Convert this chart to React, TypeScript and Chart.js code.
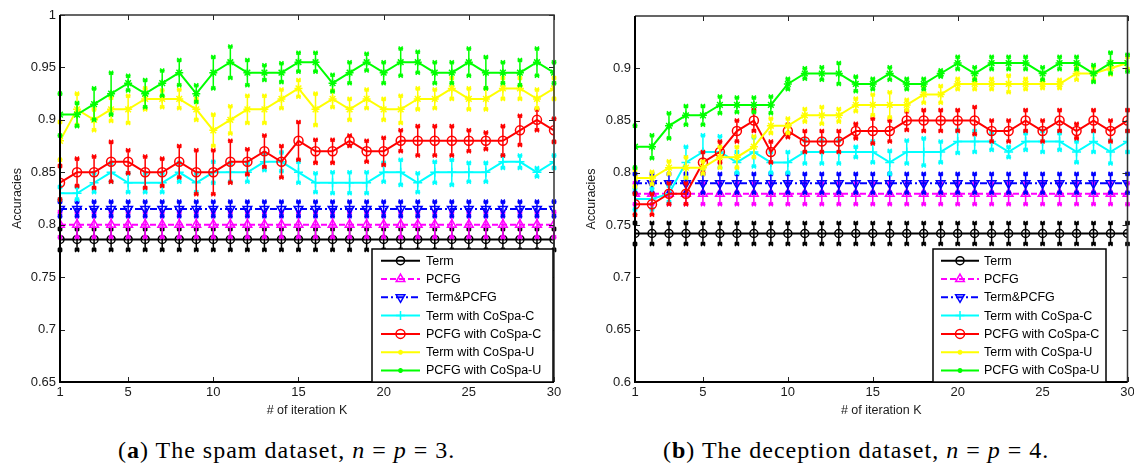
import React, { useEffect, useRef } from 'react';
import { Chart, registerables } from 'chart.js';

Chart.register(...registerables);

// ---------------- data ----------------
const iterations = [1, 2, 3, 4, 5, 6, 7, 8, 9, 10, 11, 12, 13, 14, 15, 16, 17, 18, 19, 20, 21, 22, 23, 24, 25, 26, 27, 28, 29, 30];
const xTickValues = [1, 5, 10, 15, 20, 25, 30];
const yTickValuesA = [0.65, 0.7, 0.75, 0.8, 0.85, 0.9, 0.95, 1];
const yTickValuesB = [0.6, 0.65, 0.7, 0.75, 0.8, 0.85, 0.9];

const seriesLabels = ['Term', 'PCFG', 'Term&PCFG', 'Term with CoSpa-C', 'PCFG with CoSpa-C', 'Term with CoSpa-U', 'PCFG with CoSpa-U'];

// (a) spam dataset
const termA = [0.786, 0.786, 0.786, 0.786, 0.786, 0.786, 0.786, 0.786, 0.786, 0.786, 0.786, 0.786, 0.786, 0.786, 0.786, 0.786, 0.786, 0.786, 0.786, 0.786, 0.786, 0.786, 0.786, 0.786, 0.786, 0.786, 0.786, 0.786, 0.786, 0.786];
const pcfgA = [0.8, 0.8, 0.8, 0.8, 0.8, 0.8, 0.8, 0.8, 0.8, 0.8, 0.8, 0.8, 0.8, 0.8, 0.8, 0.8, 0.8, 0.8, 0.8, 0.8, 0.8, 0.8, 0.8, 0.8, 0.8, 0.8, 0.8, 0.8, 0.8, 0.8];
const termPcfgA = [0.815, 0.815, 0.815, 0.815, 0.815, 0.815, 0.815, 0.815, 0.815, 0.815, 0.815, 0.815, 0.815, 0.815, 0.815, 0.815, 0.815, 0.815, 0.815, 0.815, 0.815, 0.815, 0.815, 0.815, 0.815, 0.815, 0.815, 0.815, 0.815, 0.815];
const termCoSpaCA = [0.83, 0.83, 0.84, 0.85, 0.84, 0.84, 0.84, 0.85, 0.84, 0.85, 0.85, 0.85, 0.86, 0.86, 0.85, 0.84, 0.84, 0.84, 0.84, 0.85, 0.85, 0.84, 0.85, 0.85, 0.85, 0.85, 0.86, 0.86, 0.85, 0.86];
const pcfgCoSpaCA = [0.84, 0.85, 0.85, 0.86, 0.86, 0.85, 0.85, 0.86, 0.85, 0.85, 0.86, 0.86, 0.87, 0.86, 0.88, 0.87, 0.87, 0.88, 0.87, 0.87, 0.88, 0.88, 0.88, 0.88, 0.88, 0.88, 0.88, 0.89, 0.9, 0.89];
const termCoSpaUA = [0.88, 0.91, 0.9, 0.91, 0.91, 0.92, 0.92, 0.92, 0.91, 0.89, 0.9, 0.91, 0.91, 0.92, 0.93, 0.91, 0.92, 0.91, 0.92, 0.91, 0.91, 0.92, 0.92, 0.93, 0.92, 0.92, 0.93, 0.93, 0.92, 0.93];
const pcfgCoSpaUA = [0.905, 0.905, 0.915, 0.925, 0.935, 0.925, 0.935, 0.945, 0.925, 0.945, 0.955, 0.945, 0.945, 0.945, 0.955, 0.955, 0.935, 0.945, 0.955, 0.945, 0.955, 0.955, 0.945, 0.945, 0.955, 0.945, 0.945, 0.945, 0.955, 0.945];

const errTermA = [0.01, 0.01, 0.01, 0.01, 0.01, 0.01, 0.01, 0.01, 0.01, 0.01, 0.01, 0.01, 0.01, 0.01, 0.01, 0.01, 0.01, 0.01, 0.01, 0.01, 0.01, 0.01, 0.01, 0.01, 0.01, 0.01, 0.01, 0.01, 0.01, 0.01];
const errPcfgA = [0.012, 0.012, 0.012, 0.012, 0.012, 0.012, 0.012, 0.012, 0.012, 0.012, 0.012, 0.012, 0.012, 0.012, 0.012, 0.012, 0.012, 0.012, 0.012, 0.012, 0.012, 0.012, 0.012, 0.012, 0.012, 0.012, 0.012, 0.012, 0.012, 0.012];
const errTermPcfgA = [0.007, 0.007, 0.007, 0.007, 0.007, 0.007, 0.007, 0.007, 0.007, 0.007, 0.007, 0.007, 0.007, 0.007, 0.007, 0.007, 0.007, 0.007, 0.007, 0.007, 0.007, 0.007, 0.007, 0.007, 0.007, 0.007, 0.007, 0.007, 0.007, 0.007];
const errTermCoSpaCA = [0.006, 0.006, 0.009, 0.009, 0.009, 0.009, 0.009, 0.009, 0.009, 0.01, 0.009, 0.009, 0.008, 0.009, 0.01, 0.009, 0.01, 0.01, 0.01, 0.009, 0.012, 0.009, 0.01, 0.012, 0.009, 0.009, 0.006, 0.006, 0.004, 0.006];
const errPcfgCoSpaCA = [0.016, 0.013, 0.015, 0.019, 0.011, 0.015, 0.013, 0.015, 0.021, 0.021, 0.02, 0.012, 0.015, 0.015, 0.018, 0.011, 0.011, 0.005, 0.01, 0.013, 0.01, 0.014, 0.014, 0.014, 0.01, 0.008, 0.014, 0.014, 0.01, 0.011];
const errTermCoSpaUA = [0.018, 0.015, 0.01, 0.011, 0.013, 0.01, 0.008, 0.009, 0.01, 0.015, 0.013, 0.013, 0.013, 0.009, 0.008, 0.015, 0.008, 0.01, 0.009, 0.01, 0.013, 0.01, 0.009, 0.01, 0.01, 0.01, 0.01, 0.01, 0.009, 0.01];
const errPcfgCoSpaUA = [0.02, 0.011, 0.015, 0.02, 0.007, 0.013, 0.012, 0.012, 0.008, 0.015, 0.015, 0.012, 0.007, 0.009, 0.009, 0.009, 0.008, 0.01, 0.008, 0.01, 0.013, 0.01, 0.01, 0.01, 0.013, 0.015, 0.01, 0.012, 0.013, 0.01];

// (b) deception dataset
const termB = [0.742, 0.742, 0.742, 0.742, 0.742, 0.742, 0.742, 0.742, 0.742, 0.742, 0.742, 0.742, 0.742, 0.742, 0.742, 0.742, 0.742, 0.742, 0.742, 0.742, 0.742, 0.742, 0.742, 0.742, 0.742, 0.742, 0.742, 0.742, 0.742, 0.742];
const pcfgB = [0.78, 0.78, 0.78, 0.78, 0.78, 0.78, 0.78, 0.78, 0.78, 0.78, 0.78, 0.78, 0.78, 0.78, 0.78, 0.78, 0.78, 0.78, 0.78, 0.78, 0.78, 0.78, 0.78, 0.78, 0.78, 0.78, 0.78, 0.78, 0.78, 0.78];
const termPcfgB = [0.79, 0.79, 0.79, 0.79, 0.79, 0.79, 0.79, 0.79, 0.79, 0.79, 0.79, 0.79, 0.79, 0.79, 0.79, 0.79, 0.79, 0.79, 0.79, 0.79, 0.79, 0.79, 0.79, 0.79, 0.79, 0.79, 0.79, 0.79, 0.79, 0.79];
const termCoSpaCB = [0.775, 0.775, 0.78, 0.81, 0.82, 0.82, 0.81, 0.82, 0.81, 0.81, 0.82, 0.82, 0.82, 0.82, 0.82, 0.81, 0.82, 0.82, 0.82, 0.83, 0.83, 0.83, 0.82, 0.83, 0.83, 0.83, 0.82, 0.83, 0.82, 0.83];
const pcfgCoSpaCB = [0.77, 0.77, 0.78, 0.78, 0.81, 0.82, 0.84, 0.85, 0.82, 0.84, 0.83, 0.83, 0.83, 0.84, 0.84, 0.84, 0.85, 0.85, 0.85, 0.85, 0.85, 0.84, 0.84, 0.85, 0.84, 0.85, 0.84, 0.85, 0.84, 0.85];
const termCoSpaUB = [0.795, 0.795, 0.805, 0.805, 0.805, 0.815, 0.815, 0.825, 0.845, 0.845, 0.855, 0.855, 0.855, 0.865, 0.865, 0.865, 0.865, 0.875, 0.875, 0.885, 0.885, 0.885, 0.885, 0.885, 0.885, 0.885, 0.895, 0.895, 0.9, 0.905];
const pcfgCoSpaUB = [0.825, 0.825, 0.845, 0.855, 0.855, 0.865, 0.865, 0.865, 0.865, 0.885, 0.895, 0.895, 0.895, 0.885, 0.885, 0.895, 0.885, 0.885, 0.895, 0.905, 0.895, 0.905, 0.905, 0.905, 0.895, 0.905, 0.905, 0.895, 0.905, 0.905];

const errTermB = [0.01, 0.01, 0.01, 0.01, 0.01, 0.01, 0.01, 0.01, 0.01, 0.01, 0.01, 0.01, 0.01, 0.01, 0.01, 0.01, 0.01, 0.01, 0.01, 0.01, 0.01, 0.01, 0.01, 0.01, 0.01, 0.01, 0.01, 0.01, 0.01, 0.01];
const errPcfgB = [0.01, 0.01, 0.01, 0.01, 0.01, 0.01, 0.01, 0.01, 0.01, 0.01, 0.01, 0.01, 0.01, 0.01, 0.01, 0.01, 0.01, 0.01, 0.01, 0.01, 0.01, 0.01, 0.01, 0.01, 0.01, 0.01, 0.01, 0.01, 0.01, 0.01];
const errTermPcfgB = [0.009, 0.009, 0.009, 0.009, 0.009, 0.009, 0.009, 0.009, 0.009, 0.009, 0.009, 0.009, 0.009, 0.009, 0.009, 0.009, 0.009, 0.009, 0.009, 0.009, 0.009, 0.009, 0.009, 0.009, 0.009, 0.009, 0.009, 0.009, 0.009, 0.009];
const errTermCoSpaCB = [0.01, 0.01, 0.008, 0.015, 0.016, 0.015, 0.01, 0.014, 0.01, 0.01, 0.011, 0.011, 0.011, 0.005, 0.01, 0.011, 0.011, 0.013, 0.01, 0.011, 0.01, 0.008, 0.005, 0.008, 0.01, 0.008, 0.01, 0.01, 0.011, 0.01];
const errPcfgCoSpaCB = [0.01, 0.01, 0.01, 0.01, 0.01, 0.01, 0.01, 0.01, 0.01, 0.006, 0.01, 0.01, 0.01, 0.007, 0.012, 0.01, 0.009, 0.01, 0.01, 0.01, 0.013, 0.01, 0.01, 0.01, 0.01, 0.01, 0.007, 0.01, 0.01, 0.01];
const errTermCoSpaUB = [0.008, 0.006, 0.006, 0.01, 0.006, 0.01, 0.01, 0.01, 0.007, 0.007, 0.006, 0.008, 0.006, 0.006, 0.01, 0.012, 0.005, 0.008, 0.008, 0.005, 0.005, 0.005, 0.008, 0.005, 0.004, 0.004, 0.006, 0.006, 0.006, 0.006];
const errPcfgCoSpaUB = [0.02, 0.011, 0.012, 0.009, 0.009, 0.008, 0.007, 0.007, 0.008, 0.005, 0.005, 0.006, 0.01, 0.007, 0.005, 0.006, 0.005, 0.005, 0.003, 0.006, 0.006, 0.006, 0.006, 0.006, 0.006, 0.006, 0.006, 0.008, 0.01, 0.008];

// ---------------- styles ----------------
const seriesStyles = [
  { color: '#000000', dash: [] as number[], point: 'circle', radius: 4, rotation: 0 },
  { color: '#ff00ff', dash: [6, 3], point: 'triangle', radius: 5, rotation: 0 },
  { color: '#0000ff', dash: [7, 3, 2, 3], point: 'triangle', radius: 5, rotation: 180 },
  { color: '#00ffff', dash: [] as number[], point: 'cross', radius: 4.5, rotation: 0 },
  { color: '#ff0000', dash: [] as number[], point: 'circle', radius: 4.5, rotation: 0 },
  { color: '#ffff00', dash: [] as number[], point: 'star', radius: 4, rotation: 0 },
  { color: '#00ff00', dash: [] as number[], point: 'star', radius: 4, rotation: 0 },
];

const FONT = "'Liberation Sans', Arial, Helvetica, sans-serif";

// ---------------- plugins ----------------
const errorBarPlugin = {
  id: 'errorBars',
  afterDatasetDraw(chart: any, args: any) {
    const ds = chart.data.datasets[args.index];
    const errs: number[] = ds.errors;
    if (!errs) return;
    const ys = chart.scales.y;
    const ctx = chart.ctx;
    ctx.save();
    ctx.strokeStyle = ds.borderColor;
    ctx.lineWidth = 1.5;
    ctx.setLineDash([]);
    args.meta.data.forEach((pt: any, i: number) => {
      const v = ds.data[i].y;
      const e = errs[i];
      const x = pt.x;
      const y1 = ys.getPixelForValue(v + e);
      const y2 = ys.getPixelForValue(v - e);
      ctx.beginPath();
      ctx.moveTo(x, y1);
      ctx.lineTo(x, y2);
      [y1, y2].forEach((yy) => {
        ctx.moveTo(x - 2.5, yy);
        ctx.lineTo(x + 2.5, yy);
        ctx.moveTo(x - 2, yy - 2);
        ctx.lineTo(x + 2, yy + 2);
        ctx.moveTo(x - 2, yy + 2);
        ctx.lineTo(x + 2, yy - 2);
      });
      ctx.stroke();
    });
    ctx.restore();
  },
};

const framePlugin = {
  id: 'matlabFrame',
  afterDatasetsDraw(chart: any) {
    const { left, right, top, bottom } = chart.chartArea;
    const ctx = chart.ctx;
    const xs = chart.scales.x;
    const ys = chart.scales.y;
    ctx.save();
    ctx.setLineDash([]);
    ctx.strokeStyle = '#222';
    ctx.lineWidth = 1;
    ctx.beginPath();
    xs.ticks.forEach((t: any) => {
      const x = Math.round(xs.getPixelForValue(t.value)) + 0.5;
      ctx.moveTo(x, bottom);
      ctx.lineTo(x, bottom - 5);
      ctx.moveTo(x, top);
      ctx.lineTo(x, top + 5);
    });
    ys.ticks.forEach((t: any) => {
      const y = Math.round(ys.getPixelForValue(t.value)) + 0.5;
      ctx.moveTo(left, y);
      ctx.lineTo(left + 5, y);
      ctx.moveTo(right, y);
      ctx.lineTo(right - 5, y);
    });
    ctx.stroke();
    ctx.strokeStyle = '#333';
    ctx.lineWidth = 1.5;
    ctx.beginPath();
    ctx.moveTo(left, top);
    ctx.lineTo(right, top);
    ctx.lineTo(right, bottom);
    ctx.stroke();
    ctx.strokeStyle = '#000';
    ctx.lineWidth = 2;
    ctx.beginPath();
    ctx.moveTo(left, top);
    ctx.lineTo(left, bottom);
    ctx.lineTo(right, bottom);
    ctx.stroke();
    ctx.restore();
  },
};

function drawMarker(ctx: CanvasRenderingContext2D, style: string, x: number, y: number, r: number, rotation: number) {
  ctx.beginPath();
  if (style === 'circle') {
    ctx.arc(x, y, r, 0, Math.PI * 2);
  } else if (style === 'triangle') {
    const s = rotation === 180 ? -1 : 1;
    ctx.moveTo(x, y - s * r);
    ctx.lineTo(x + r * 0.866, y + s * r * 0.5);
    ctx.lineTo(x - r * 0.866, y + s * r * 0.5);
    ctx.closePath();
  } else if (style === 'cross') {
    ctx.moveTo(x - r, y);
    ctx.lineTo(x + r, y);
    ctx.moveTo(x, y - r);
    ctx.lineTo(x, y + r);
  } else if (style === 'star') {
    ctx.moveTo(x - r, y);
    ctx.lineTo(x + r, y);
    ctx.moveTo(x, y - r);
    ctx.lineTo(x, y + r);
    const d = r * 0.7;
    ctx.moveTo(x - d, y - d);
    ctx.lineTo(x + d, y + d);
    ctx.moveTo(x - d, y + d);
    ctx.lineTo(x + d, y - d);
  }
  ctx.stroke();
}

const boxLegendPlugin = {
  id: 'boxLegend',
  afterDraw(chart: any, _args: any, opts: any) {
    const ctx = chart.ctx;
    const [x1, y1, x2, y2] = opts.box;
    ctx.save();
    ctx.fillStyle = '#fff';
    ctx.fillRect(x1, y1, x2 - x1, y2 - y1);
    ctx.strokeStyle = '#000';
    ctx.lineWidth = 1.5;
    ctx.setLineDash([]);
    ctx.strokeRect(x1, y1, x2 - x1, y2 - y1);
    ctx.font = `${opts.fontSize}px ${FONT}`;
    ctx.textBaseline = 'middle';
    ctx.textAlign = 'left';
    chart.data.datasets.forEach((ds: any, i: number) => {
      const y = opts.rowY + i * opts.rowH;
      const st = seriesStyles[i];
      ctx.strokeStyle = st.color;
      ctx.lineWidth = 2;
      ctx.setLineDash(st.dash);
      ctx.beginPath();
      ctx.moveTo(opts.lineX[0], y);
      ctx.lineTo(opts.lineX[1], y);
      ctx.stroke();
      ctx.setLineDash([]);
      ctx.lineWidth = 1.5;
      const mx = (opts.lineX[0] + opts.lineX[1]) / 2;
      const r = st.point === 'star' ? 2.5 : st.radius;
      drawMarker(ctx, st.point, mx, y, r, st.rotation);
      ctx.fillStyle = '#000';
      ctx.fillText(ds.label, opts.textX, y + 0.5);
    });
    ctx.restore();
  },
};

// ---------------- panel ----------------
type PanelProps = {
  left: number;
  width: number;
  values: number[][];
  errors: number[][];
  yMin: number;
  yMax: number;
  yTicks: number[];
  yAxisWidth: number;
  yTitlePad: number;
  padTop: number;
  padRight: number;
  legend: any;
};

function Panel(p: PanelProps) {
  const ref = useRef<HTMLCanvasElement>(null);
  useEffect(() => {
    if (!ref.current) return;
    const datasets = seriesLabels.map((label, k) => {
      const st = seriesStyles[k];
      return {
        label,
        data: iterations.map((x, i) => ({ x, y: p.values[k][i] })),
        errors: p.errors[k],
        borderColor: st.color,
        backgroundColor: st.color,
        borderWidth: 2,
        borderDash: st.dash,
        pointStyle: st.point,
        pointRadius: st.radius,
        pointRotation: st.rotation,
        pointBorderColor: st.color,
        pointBackgroundColor: 'rgba(0,0,0,0)',
        pointBorderWidth: 1.5,
        tension: 0,
        fill: false,
        order: 7 - k,
      } as any;
    });
    const chart = new Chart(ref.current, {
      type: 'line',
      data: { datasets },
      plugins: [errorBarPlugin, framePlugin, boxLegendPlugin],
      options: {
        animation: false,
        responsive: false,
        maintainAspectRatio: false,
        layout: { padding: { top: p.padTop, right: p.padRight, left: 0, bottom: 0 } },
        plugins: {
          legend: { display: false },
          tooltip: { enabled: false },
          boxLegend: p.legend,
        } as any,
        scales: {
          x: {
            type: 'linear',
            min: 1,
            max: 30,
            afterBuildTicks: (s: any) => {
              s.ticks = xTickValues.map((v) => ({ value: v }));
            },
            afterFit: (s: any) => {
              s.height = 38;
              s.paddingLeft = 0;
              s.paddingRight = 0;
            },
            grid: { display: false, drawTicks: false },
            border: { display: false },
            ticks: {
              autoSkip: false,
              maxRotation: 0,
              padding: 3,
              color: '#1a1a1a',
              font: { family: FONT, size: 13 },
              callback: (v: any) => String(v),
            },
            title: {
              display: true,
              text: '# of iteration K',
              color: '#1a1a1a',
              font: { family: FONT, size: 12.5 },
              padding: { top: 0, bottom: 2 },
            },
          },
          y: {
            type: 'linear',
            min: p.yMin,
            max: p.yMax,
            afterBuildTicks: (s: any) => {
              s.ticks = p.yTicks.map((v) => ({ value: v }));
            },
            afterFit: (s: any) => {
              s.width = p.yAxisWidth;
            },
            grid: { display: false, drawTicks: false },
            border: { display: false },
            ticks: {
              autoSkip: false,
              padding: 4,
              color: '#1a1a1a',
              font: { family: FONT, size: 13 },
              callback: (v: any) => String(v),
            },
            title: {
              display: true,
              text: 'Accuracies',
              color: '#1a1a1a',
              font: { family: FONT, size: 12.5 },
              padding: { top: p.yTitlePad, bottom: 0 },
            },
          },
        },
      } as any,
    });
    return () => chart.destroy();
  }, []);
  return (
    <canvas
      ref={ref}
      width={p.width}
      height={420}
      style={{ position: 'absolute', left: p.left, top: 0, width: p.width, height: 420 }}
    />
  );
}

const captionStyle: React.CSSProperties = {
  position: 'absolute',
  top: 438,
  fontFamily: "'Liberation Serif', 'Times New Roman', serif",
  fontSize: 24,
  lineHeight: '24px',
  whiteSpace: 'nowrap',
  color: '#000',
  letterSpacing: '1px',
};

export default function App() {
  return (
    <div style={{ position: 'fixed', left: 0, top: 0, width: 1134, height: 466, background: '#fff', overflow: 'hidden' }}>
      <Panel
        left={0}
        width={567}
        values={[termA, pcfgA, termPcfgA, termCoSpaCA, pcfgCoSpaCA, termCoSpaUA, pcfgCoSpaUA]}
        errors={[errTermA, errPcfgA, errTermPcfgA, errTermCoSpaCA, errPcfgCoSpaCA, errTermCoSpaUA, errPcfgCoSpaUA]}
        yMin={0.65}
        yMax={1}
        yTicks={yTickValuesA}
        yAxisWidth={60}
        yTitlePad={10}
        padTop={15}
        padRight={13}
        legend={{ box: [372, 249, 553, 382], lineX: [381, 420], textX: 426, rowY: 260.7, rowH: 18.3, fontSize: 12.5 }}
      />
      <Panel
        left={570}
        width={564}
        values={[termB, pcfgB, termPcfgB, termCoSpaCB, pcfgCoSpaCB, termCoSpaUB, pcfgCoSpaUB]}
        errors={[errTermB, errPcfgB, errTermPcfgB, errTermCoSpaCB, errPcfgCoSpaCB, errTermCoSpaUB, errPcfgCoSpaUB]}
        yMin={0.6}
        yMax={0.95}
        yTicks={yTickValuesB}
        yAxisWidth={65}
        yTitlePad={14}
        padTop={16}
        padRight={6}
        legend={{ box: [363, 249, 536, 382], lineX: [371, 409], textX: 414, rowY: 260.7, rowH: 18.3, fontSize: 12.5 }}
      />
      <div style={{ ...captionStyle, left: 118 }}>
        (<b>a</b>) The spam dataset, <i>n</i> = <i>p</i> = 3.
      </div>
      <div style={{ ...captionStyle, left: 663 }}>
        (<b>b</b>) The deception dataset, <i>n</i> = <i>p</i> = 4.
      </div>
    </div>
  );
}
